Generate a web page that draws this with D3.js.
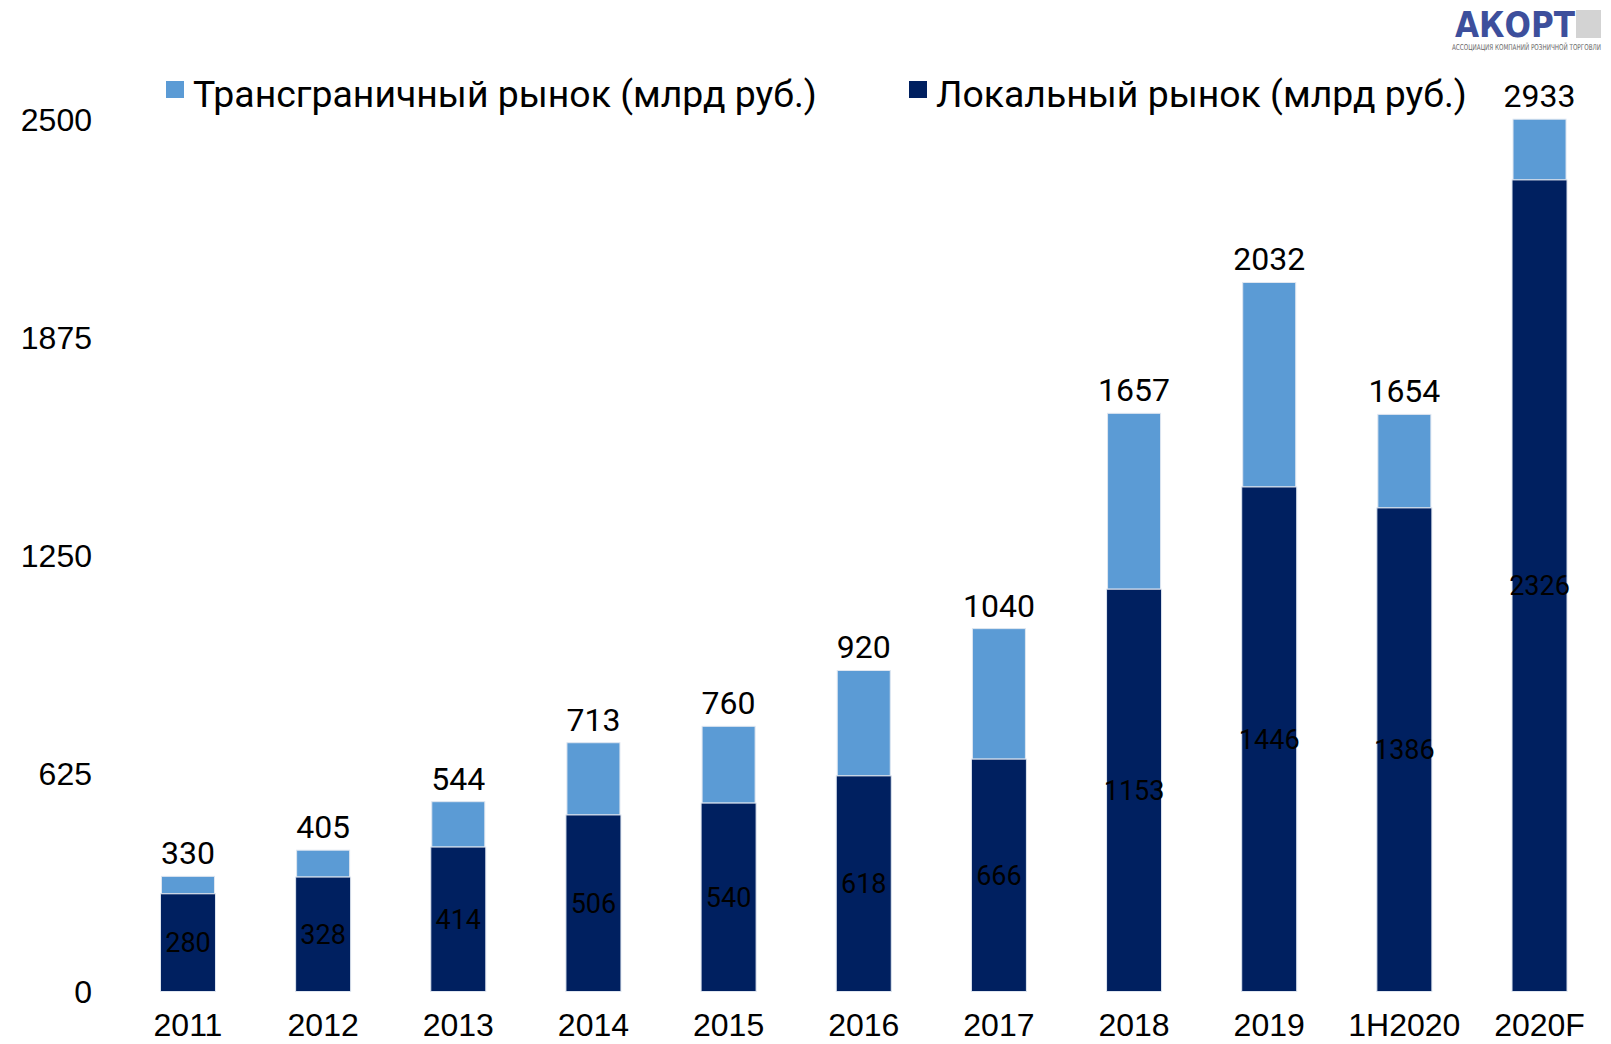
<!DOCTYPE html>
<html>
<head>
<meta charset="utf-8">
<script src="https://cdnjs.cloudflare.com/ajax/libs/d3/7.8.5/d3.min.js"></script>
<style>
  body { margin: 0; background: #fff; }
  text { font-family: "Liberation Sans", Arial, sans-serif; fill: #000; }
</style>
</head>
<body>
<div id="chart"></div>
<script>
// Data
const years = ["2011", "2012", "2013", "2014", "2015", "2016", "2017", "2018", "2019", "1H2020", "2020F"];
const localMarket = [280, 328, 414, 506, 540, 618, 666, 1153, 1446, 1386, 2326];
const totalMarket = [330, 405, 544, 713, 760, 920, 1040, 1657, 2032, 1654, 2933];
const yTicks = [0, 625, 1250, 1875, 2500];
const seriesNames = ["Трансграничный рынок (млрд руб.)", "Локальный рынок (млрд руб.)"];

const colors = { cross: "#5b9bd5", local: "#002060", border: "#dfe6f0" };

const W = 1611, H = 1044;
const svg = d3.select("#chart")
    .append("svg")
    .attr("width", W)
    .attr("height", H);

// Scales
const x = d3.scaleBand()
    .domain(years)
    .range([120.4, 1607.1])
    .paddingInner(0.593)
    .paddingOuter(0.2965);

const y = d3.scaleLinear()
    .domain([0, 2500])
    .range([991.5, 119.2])
    .clamp(true);

// Y axis labels (no line)
svg.append("g")
    .selectAll("text")
    .data(yTicks)
    .enter().append("text")
    .attr("x", 92)
    .attr("y", d => y(d))
    .attr("dy", "0.36em")
    .attr("text-anchor", "end")
    .style("font-size", "32px")
    .text(d => d);

const bars = svg.append("g");

// Cross-border part (top of stack)
bars.selectAll(".cross")
    .data(years)
    .enter().append("rect")
    .attr("class", "cross")
    .attr("x", d => x(d) + 1)
    .attr("width", x.bandwidth() - 2)
    .attr("y", (d, i) => y(totalMarket[i]))
    .attr("height", (d, i) => y(localMarket[i]) - y(totalMarket[i]))
    .style("fill", colors.cross)
    .style("stroke", colors.border)
    .style("stroke-width", 1);

// Local part
bars.selectAll(".local")
    .data(years)
    .enter().append("rect")
    .attr("class", "local")
    .attr("x", d => x(d))
    .attr("width", x.bandwidth())
    .attr("y", (d, i) => y(localMarket[i]))
    .attr("height", (d, i) => y(0) - y(localMarket[i]))
    .style("fill", colors.local)
    .style("stroke", colors.border)
    .style("stroke-width", 1);

// Local values inside bars
svg.append("g")
    .selectAll("text")
    .data(years)
    .enter().append("text")
    .attr("x", d => x(d) + x.bandwidth() / 2)
    .attr("y", (d, i) => (y(0) + y(localMarket[i])) / 2)
    .attr("dy", "0.36em")
    .attr("text-anchor", "middle")
    .style("font-family", "Roboto, sans-serif")
    .style("font-size", "27px")
    .text((d, i) => localMarket[i]);

// Totals above bars
svg.append("g")
    .selectAll("text")
    .data(years)
    .enter().append("text")
    .attr("x", d => x(d) + x.bandwidth() / 2)
    .attr("y", (d, i) => y(totalMarket[i]) - 12)
    .attr("text-anchor", "middle")
    .style("font-family", "Roboto, sans-serif")
    .style("font-size", "32px")
    .text((d, i) => totalMarket[i]);

// X axis labels
svg.append("g")
    .selectAll("text")
    .data(years)
    .enter().append("text")
    .attr("x", d => x(d) + x.bandwidth() / 2)
    .attr("y", 1036)
    .attr("text-anchor", "middle")
    .style("font-size", "32px")
    .text(d => d);

// Legend
const legendItems = [
    { name: seriesNames[0], color: colors.cross, x: 166 },
    { name: seriesNames[1], color: colors.local, x: 909 }
];
const legend = svg.append("g");
legendItems.forEach(item => {
    legend.append("rect")
        .attr("x", item.x)
        .attr("y", 81)
        .attr("width", 18)
        .attr("height", 17)
        .style("fill", item.color);
    legend.append("text")
        .attr("x", item.x + 27)
        .attr("y", 106.5)
        .style("font-family", "Roboto, sans-serif")
        .style("font-size", "37.4px")
        .text(item.name);
});

// AKORT logo
const logo = svg.append("g");
logo.append("text")
    .attr("x", 1455)
    .attr("y", 37)
    .attr("textLength", 120)
    .attr("lengthAdjust", "spacingAndGlyphs")
    .style("font-family", "'DejaVu Sans Condensed', 'DejaVu Sans', sans-serif")
    .style("font-weight", "bold")
    .style("font-size", "36px")
    .style("fill", "#3d4f9c")
    .text("АКОРТ");
logo.append("rect")
    .attr("x", 1576)
    .attr("y", 10)
    .attr("width", 25)
    .attr("height", 28)
    .style("fill", "#d3d3d3");
logo.append("text")
    .attr("transform", "translate(1452,50) scale(1,1.3)")
    .attr("textLength", 149)
    .attr("lengthAdjust", "spacingAndGlyphs")
    .style("font-family", "'DejaVu Sans Condensed', 'DejaVu Sans', sans-serif")
    .style("font-size", "6.2px")
    .style("fill", "#666")
    .text("АССОЦИАЦИЯ КОМПАНИЙ РОЗНИЧНОЙ ТОРГОВЛИ");
</script>
</body>
</html>
